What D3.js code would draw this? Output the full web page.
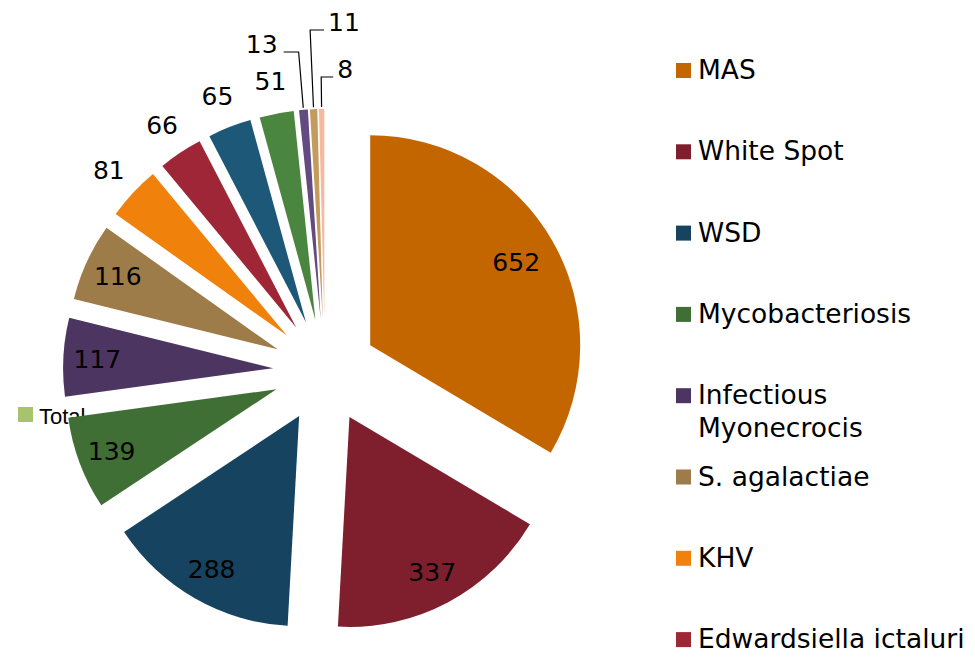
<!DOCTYPE html>
<html>
<head>
<meta charset="utf-8">
<script src="https://cdn.jsdelivr.net/npm/d3@7"></script>
<style>
  body { margin: 0; background: #fff; }
  svg { display: block; font-family: "DejaVu Sans", Verdana, sans-serif; }
</style>
</head>
<body>
<div id="main"></div>
<script>
// slice values, clockwise from 12 o'clock
const values = [652, 337, 288, 139, 117, 116, 81, 66, 65, 51, 13, 11, 8];
// legend names that are visible in the picture (the rest run off the bottom)
const categories = ['MAS', 'White Spot', 'WSD', 'Mycobacteriosis', 'Infectious\nMyonecrocis',
                    'S. agalactiae', 'KHV', 'Edwardsiella ictaluri'];
const colors = ['#c46600', '#7f1f2d', '#16435f', '#406f35', '#4d3561', '#9d7c49', '#f0820c',
                '#9e2636', '#1e5879', '#4b8641', '#634a80', '#c49b5f', '#f6b9a0'];
const seriesName = 'Total';

const w = 975, h = 659;
const cx = 325, cy = 371;   // pie centre before explosion
const r = 210;              // radius
const explode = 52;         // every slice pulled out by this much
const insideCount = 6;      // first six labels sit inside their slice
const fontSize = 25;

// leader lines for the three thin slices: elbow height and horizontal run
const leaders = { 10: { y: 52, run: -15 }, 11: { y: 30, run: 14 }, 12: { y: 77, run: 12 } };

const svg = d3.select('#main').append('svg')
    .attr('width', w)
    .attr('height', h);

// "Total" series legend sits under the pie
svg.append('rect')
    .attr('x', 18).attr('y', 407).attr('width', 15).attr('height', 15)
    .attr('fill', '#a7c36b');
svg.append('text')
    .attr('x', 39).attr('y', 424)
    .style('font-family', '"Liberation Sans", Arial, sans-serif')
    .style('font-size', '22px')
    .text(seriesName);

const pie = d3.pie().sort(null).value(d => d);
const arcs = pie(values);
const arc = d3.arc().innerRadius(0).outerRadius(r);

const mid = d => (d.startAngle + d.endAngle) / 2;
const dir = a => [Math.sin(a), -Math.cos(a)];

const slices = svg.selectAll('g.slice')
    .data(arcs)
    .enter()
    .append('g')
    .attr('class', 'slice')
    .attr('transform', d => {
        const [dx, dy] = dir(mid(d));
        return 'translate(' + (cx + dx * explode) + ',' + (cy + dy * explode) + ')';
    });

slices.append('path')
    .attr('d', arc)
    .attr('fill', (d, i) => colors[i]);

// data labels
slices.each(function (d, i) {
    const g = d3.select(this);
    const [ux, uy] = dir(mid(d));
    if (leaders[i]) {
        const L = leaders[i];
        const sx = ux * (r + 2), sy = uy * (r + 2);
        const apexY = cy + uy * explode;
        const ey = L.y - apexY;                 // elbow, in slice coordinates
        const ex = sx + (ey - sy) * ux / uy;
        g.append('polyline')
            .attr('points', [[sx, sy], [ex, ey], [ex + L.run, ey]].map(p => p.join(',')).join(' '))
            .attr('fill', 'none')
            .attr('stroke', '#000')
            .attr('stroke-width', 1.2);
        g.append('text')
            .attr('x', ex + L.run + (L.run < 0 ? -6 : 4))
            .attr('y', ey + 1)
            .attr('text-anchor', L.run < 0 ? 'end' : 'start')
            .style('font-size', fontSize + 'px')
            .text(d.data);
    } else {
        const dist = i === 0 ? 168 : (i < insideCount ? 176 : 243);
        g.append('text')
            .attr('x', ux * dist)
            .attr('y', uy * dist)
            .attr('dy', '0.36em')
            .attr('text-anchor', 'middle')
            .style('font-size', fontSize + 'px')
            .text(d.data);
    }
});

// legend on the right
const legend = svg.selectAll('g.legend')
    .data(categories)
    .enter()
    .append('g')
    .attr('class', 'legend')
    .attr('transform', (d, i) => 'translate(676,' + (79 + i * 81.3) + ')');

legend.append('rect')
    .attr('x', 0).attr('y', -16).attr('width', 15).attr('height', 15)
    .attr('fill', (d, i) => colors[i]);

legend.append('text')
    .attr('x', 22)
    .style('font-size', '26.5px')
    .selectAll('tspan')
    .data(d => d.split('\n'))
    .enter()
    .append('tspan')
    .attr('x', 22)
    .attr('dy', (d, i) => i ? 33 : 0)
    .text(d => d);
</script>
</body>
</html>
